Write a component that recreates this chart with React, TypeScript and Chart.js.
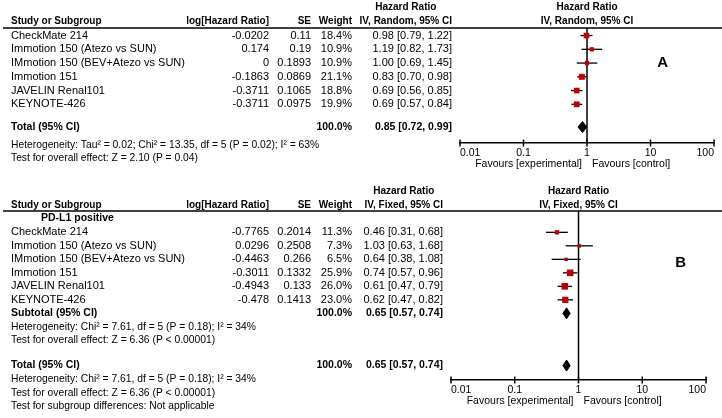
import React, { useEffect, useRef } from 'react';
import { Chart, registerables } from 'chart.js';

Chart.register(...registerables);

// ---------- DATA ----------
const STUDIES = [
  'CheckMate 214',
  'Immotion 150 (Atezo vs SUN)',
  'IMmotion 150 (BEV+Atezo vs SUN)',
  'Immotion 151',
  'JAVELIN Renal101',
  'KEYNOTE-426',
];

// Panel A (IV, Random)
const A_LOG_HR = [-0.0202, 0.174, 0, -0.1863, -0.3711, -0.3711];
const A_SE = [0.11, 0.19, 0.1893, 0.0869, 0.1065, 0.0975];
const A_WEIGHT = [18.4, 10.9, 10.9, 21.1, 18.8, 19.9];
const A_HR = [0.98, 1.19, 1.0, 0.83, 0.69, 0.69];
const A_LO = [0.79, 0.82, 0.69, 0.7, 0.56, 0.57];
const A_HI = [1.22, 1.73, 1.45, 0.98, 0.85, 0.84];
const A_TOTAL = [0.85, 0.72, 0.99];
const A_TOTAL_WEIGHT = 100.0;
const A_HETEROGENEITY = 'Heterogeneity: Tau² = 0.02; Chi² = 13.35, df = 5 (P = 0.02); I² = 63%';
const A_OVERALL = 'Test for overall effect: Z = 2.10 (P = 0.04)';

// Panel B (IV, Fixed)
const B_SUBGROUP = 'PD-L1 positive';
const B_LOG_HR = [-0.7765, 0.0296, -0.4463, -0.3011, -0.4943, -0.478];
const B_SE = [0.2014, 0.2508, 0.266, 0.1332, 0.133, 0.1413];
const B_WEIGHT = [11.3, 7.3, 6.5, 25.9, 26.0, 23.0];
const B_HR = [0.46, 1.03, 0.64, 0.74, 0.61, 0.62];
const B_LO = [0.31, 0.63, 0.38, 0.57, 0.47, 0.47];
const B_HI = [0.68, 1.68, 1.08, 0.96, 0.79, 0.82];
const B_SUBTOTAL = [0.65, 0.57, 0.74];
const B_SUBTOTAL_WEIGHT = 100.0;
const B_TOTAL = [0.65, 0.57, 0.74];
const B_TOTAL_WEIGHT = 100.0;
const B_HETEROGENEITY = 'Heterogeneity: Chi² = 7.61, df = 5 (P = 0.18); I² = 34%';
const B_OVERALL = 'Test for overall effect: Z = 6.36 (P < 0.00001)';
const B_SUBGROUP_DIFF = 'Test for subgroup differences: Not applicable';

const AXIS_TICKS = [0.01, 0.1, 1, 10, 100];
const AXIS_TICK_LABELS = ['0.01', '0.1', '1', '10', '100'];
const FAVOURS_LEFT = 'Favours [experimental]';
const FAVOURS_RIGHT = 'Favours [control]';

// ---------- STYLE ----------
const FONT = "'Liberation Sans', Arial, Helvetica, sans-serif";
const RED = '#c00000';
const COL_NAME = 11;
const COL_LOGHR = 269;
const COL_SE = 311;
const COL_WEIGHT = 352;

type Summary = { label: string; weight: number; est: number[]; row: number };
type Footer = { text: string; row: number };
type PanelSpec = {
  letter: string;
  method: string;
  canvasH: number;
  padLeft: number;
  padRight: number;
  padTop: number;
  axisH: number;
  rowH: number;
  headerRows: number[];
  studyRows: number[];
  subgroup?: { text: string; row: number; x: number };
  letterPos: number[];
  logHr: number[];
  se: number[];
  weight: number[];
  hr: number[];
  lo: number[];
  hi: number[];
  summaries: Summary[];
  footers: Footer[];
  diamondHalf: number;
};

const PANEL_A: PanelSpec = {
  letter: 'A',
  method: 'Random',
  canvasH: 180,
  padLeft: 460,
  padRight: 8,
  padTop: 28,
  axisH: 37,
  rowH: 13.75,
  headerRows: [-1.53, -0.51],
  studyRows: [0.55, 1.55, 2.55, 3.55, 4.55, 5.55],
  letterPos: [15.5, 2.55],
  logHr: A_LOG_HR,
  se: A_SE,
  weight: A_WEIGHT,
  hr: A_HR,
  lo: A_LO,
  hi: A_HI,
  summaries: [{ label: 'Total (95% CI)', weight: A_TOTAL_WEIGHT, est: A_TOTAL, row: 7.2 }],
  footers: [
    { text: A_HETEROGENEITY, row: 8.5 },
    { text: A_OVERALL, row: 9.45 },
  ],
  diamondHalf: 5.5,
};

const PANEL_B: PanelSpec = {
  letter: 'B',
  method: 'Fixed',
  canvasH: 238,
  padLeft: 451,
  padRight: 16,
  padTop: 31,
  axisH: 38,
  rowH: 13.5,
  headerRows: [-1.48, -0.44],
  studyRows: [1.58, 2.58, 3.58, 4.58, 5.58, 6.58],
  subgroup: { text: B_SUBGROUP, row: 0.52, x: 41 },
  letterPos: [40, 3.82],
  logHr: B_LOG_HR,
  se: B_SE,
  weight: B_WEIGHT,
  hr: B_HR,
  lo: B_LO,
  hi: B_HI,
  summaries: [
    { label: 'Subtotal (95% CI)', weight: B_SUBTOTAL_WEIGHT, est: B_SUBTOTAL, row: 7.58 },
    { label: 'Total (95% CI)', weight: B_TOTAL_WEIGHT, est: B_TOTAL, row: 11.45 },
  ],
  footers: [
    { text: B_HETEROGENEITY, row: 8.58 },
    { text: B_OVERALL, row: 9.58 },
    { text: B_HETEROGENEITY, row: 12.47 },
    { text: B_OVERALL, row: 13.5 },
    { text: B_SUBGROUP_DIFF, row: 14.46 },
  ],
  diamondHalf: 5.5,
};

function fmtCI(h: number, l: number, u: number) {
  return `${h.toFixed(2)} [${l.toFixed(2)}, ${u.toFixed(2)}]`;
}

function tablePlugin(p: PanelSpec) {
  return {
    id: 'forestTable' + p.letter,
    afterDraw(chart: any) {
      const ctx: CanvasRenderingContext2D = chart.ctx;
      const a = chart.chartArea;
      const xs = chart.scales.x;
      const ys = chart.scales.y;
      const Y = (r: number) => ys.getPixelForValue(r);
      const hrRight = a.left - 8;
      const cx = (a.left + a.right) / 2;
      const setFont = (bold: boolean, size: number) => {
        ctx.font = `${bold ? 'bold ' : ''}${size}px ${FONT}`;
      };
      const T = (s: string, x: number, y: number, align: CanvasTextAlign = 'left', bold = false, size = 11) => {
        setFont(bold, size);
        ctx.textAlign = align;
        ctx.textBaseline = 'middle';
        ctx.fillStyle = '#000';
        ctx.fillText(s, x, y);
      };
      ctx.save();
      // header underline
      ctx.strokeStyle = '#000';
      ctx.lineWidth = 1.5;
      ctx.beginPath();
      ctx.moveTo(3, Y(0));
      ctx.lineTo(chart.width, Y(0));
      ctx.stroke();

      // headers
      const [h1, h2] = p.headerRows;
      const HB = 10;
      T('Study or Subgroup', COL_NAME, Y(h2), 'left', true, HB);
      T('log[Hazard Ratio]', COL_LOGHR, Y(h2), 'right', true, HB);
      T('SE', COL_SE, Y(h2), 'right', true, HB);
      T('Weight', COL_WEIGHT, Y(h2), 'right', true, HB);
      const method = `IV, ${p.method}, 95% CI`;
      setFont(true, HB);
      const mw = ctx.measureText(method).width;
      T(method, hrRight, Y(h2), 'right', true, HB);
      T('Hazard Ratio', hrRight - mw / 2, Y(h1), 'center', true, HB);
      T('Hazard Ratio', cx, Y(h1), 'center', true, HB);
      T(method, cx, Y(h2), 'center', true, HB);

      if (p.subgroup) T(p.subgroup.text, p.subgroup.x, Y(p.subgroup.row), 'left', true, 10.5);

      STUDIES.forEach((name, i) => {
        const yy = Y(p.studyRows[i]);
        T(name, COL_NAME, yy);
        T(String(p.logHr[i]), COL_LOGHR, yy, 'right');
        T(String(p.se[i]), COL_SE, yy, 'right');
        T(p.weight[i].toFixed(1) + '%', COL_WEIGHT, yy, 'right');
        T(fmtCI(p.hr[i], p.lo[i], p.hi[i]), hrRight, yy, 'right');
      });

      p.summaries.forEach((s) => {
        const yy = Y(s.row);
        T(s.label, COL_NAME, yy, 'left', true, 10.5);
        T(s.weight.toFixed(1) + '%', COL_WEIGHT, yy, 'right', true, 10.5);
        T(fmtCI(s.est[0], s.est[1], s.est[2]), hrRight, yy, 'right', true, 10.5);
      });

      p.footers.forEach((f) => T(f.text, COL_NAME, Y(f.row), 'left', false, 10.3));

      // axis tick marks crossing the axis line
      ctx.strokeStyle = '#000';
      ctx.lineWidth = 1.5;
      AXIS_TICKS.forEach((v) => {
        const px = xs.getPixelForValue(v);
        ctx.beginPath();
        ctx.moveTo(px, a.bottom - 3.5);
        ctx.lineTo(px, a.bottom + 3.5);
        ctx.stroke();
      });

      // favours labels
      const x1 = xs.getPixelForValue(1);
      T(FAVOURS_LEFT, x1 - 5, a.bottom + 21, 'right', false, 10.5);
      T(FAVOURS_RIGHT, x1 + 5, a.bottom + 21, 'left', false, 10.5);

      // panel letter
      T(p.letter, xs.getPixelForValue(p.letterPos[0]), Y(p.letterPos[1]), 'center', true, 15);
      ctx.restore();
    },
  };
}

function makeConfig(p: PanelSpec): any {
  const yMax = (p.canvasH - p.axisH - p.padTop) / p.rowH;
  const datasets: any[] = [];
  // squares (drawn on top: first dataset is painted last)
  datasets.push({
    data: p.hr.map((v, i) => ({ x: v, y: p.studyRows[i] })),
    showLine: false,
    pointStyle: 'rect',
    pointRadius: p.weight.map((w) => (1.3 * Math.sqrt(w)) / Math.SQRT2),
    pointBackgroundColor: RED,
    pointBorderColor: RED,
    pointBorderWidth: 0,
  });
  // diamonds
  p.summaries.forEach((s) => {
    const [h, l, u] = s.est;
    const d = p.diamondHalf / p.rowH;
    datasets.push({
      data: [
        { x: l, y: s.row },
        { x: h, y: s.row - d },
        { x: u, y: s.row },
        { x: h, y: s.row + d },
        { x: l, y: s.row },
      ],
      showLine: true,
      fill: 'shape',
      backgroundColor: '#000',
      borderColor: '#000',
      borderWidth: 1,
      pointRadius: 0,
      tension: 0,
    });
  });
  // confidence intervals
  p.hr.forEach((_, i) => {
    datasets.push({
      data: [
        { x: p.lo[i], y: p.studyRows[i] },
        { x: p.hi[i], y: p.studyRows[i] },
      ],
      showLine: true,
      borderColor: '#000',
      borderWidth: 1.3,
      pointRadius: 0,
    });
  });
  // line of no effect
  datasets.push({
    data: [
      { x: 1, y: 0 },
      { x: 1, y: yMax },
    ],
    showLine: true,
    borderColor: '#000',
    borderWidth: 1.5,
    pointRadius: 0,
  });

  return {
    type: 'scatter',
    data: { datasets },
    options: {
      responsive: false,
      animation: false,
      devicePixelRatio: 1,
      events: [],
      layout: { padding: { left: p.padLeft, right: p.padRight, top: p.padTop, bottom: 0 } },
      plugins: { legend: { display: false }, tooltip: { enabled: false } },
      scales: {
        x: {
          type: 'logarithmic',
          position: 'bottom',
          min: 0.01,
          max: 100,
          afterBuildTicks: (s: any) => {
            s.ticks = AXIS_TICKS.map((v) => ({ value: v }));
          },
          afterFit: (s: any) => {
            s.height = p.axisH;
          },
          grid: { display: false, drawTicks: false },
          border: { display: true, color: '#000', width: 1.5 },
          ticks: {
            align: 'inner',
            padding: 4,
            color: '#000',
            autoSkip: false,
            maxRotation: 0,
            font: { family: FONT, size: 10.5 },
            callback: (_v: any, i: number) => AXIS_TICK_LABELS[i],
          },
        },
        y: { type: 'linear', min: 0, max: yMax, reverse: true, display: false },
      },
    },
    plugins: [tablePlugin(p)],
  };
}

export default function App() {
  const refA = useRef<HTMLCanvasElement>(null);
  const refB = useRef<HTMLCanvasElement>(null);
  useEffect(() => {
    const a = new Chart(refA.current as HTMLCanvasElement, makeConfig(PANEL_A));
    const b = new Chart(refB.current as HTMLCanvasElement, makeConfig(PANEL_B));
    return () => {
      a.destroy();
      b.destroy();
    };
  }, []);
  return (
    <div style={{ position: 'absolute', left: 0, top: 0, width: 722, height: 418, background: '#fff' }}>
      <canvas ref={refA} width={722} height={PANEL_A.canvasH} style={{ position: 'absolute', left: 0, top: 0 }} />
      <canvas ref={refB} width={722} height={PANEL_B.canvasH} style={{ position: 'absolute', left: 0, top: PANEL_A.canvasH }} />
    </div>
  );
}
